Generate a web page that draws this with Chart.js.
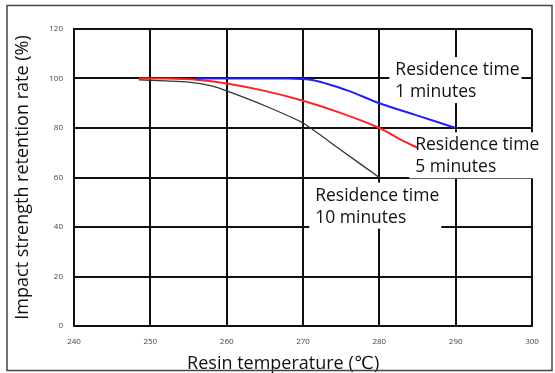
<!DOCTYPE html>
<html>
<head>
<meta charset="utf-8">
<script src="https://cdn.jsdelivr.net/npm/chart.js@4"></script>
<style>
  html, body { margin: 0; padding: 0; background: #fff; }
  #wrap { width: 555px; height: 373px; position: relative; }
</style>
</head>
<body>
<div id="wrap"><canvas id="myChart"></canvas></div>
<script>
// data
var xTicks = [240, 250, 260, 270, 280, 290, 300]
var yTicks = [0, 20, 40, 60, 80, 100, 120]

var temp1 = [256, 262, 268, 271, 273, 276, 280, 285, 290]
var min1 = [100, 100, 100, 99.5, 98, 95, 90, 85, 80]

var temp5 = [248.5, 252, 256, 260, 265, 270, 275, 280, 283, 285]
var min5 = [100, 100, 99.5, 98, 95, 91, 86, 80, 75, 72]

var temp10 = [248.5, 252, 255, 258, 260, 265, 270, 275, 280]
var min10 = [99.5, 99, 98.5, 97, 95, 89, 82, 71, 60]

var labelLines = [
    ['Residence time', '1 minutes'],
    ['Residence time', '5 minutes'],
    ['Residence time', '10 minutes']
]
var labelX = [282.1, 284.7, 271.6]
var labelY = [103.4, 73, 52.7]

var xTitle = 'Resin temperature (℃)'
var yTitle = 'Impact strength retention rate (%)'

function pts(xs, ys) {
    return xs.map(function (x, i) { return {x: x, y: ys[i]} })
}

var fontFam = '"Open Sans", "DejaVu Sans", sans-serif'
var noteFont = '17.5px ' + fontFam

// white boxes + text for the residence time notes, x title, outer frame
var notes = {
    id: 'notes',
    beforeDatasetsDraw: function (chart) {
        var ctx = chart.ctx
        var xs = chart.scales.x, ys = chart.scales.y
        ctx.save()
        ctx.font = noteFont
        for (var i = 0; i < labelLines.length; i++) {
            var px = xs.getPixelForValue(labelX[i])
            var py = ys.getPixelForValue(labelY[i])
            var w = ctx.measureText(labelLines[i][0]).width
            ctx.fillStyle = '#fff'
            ctx.fillRect(px - 6, py - 13, w + 8, 46)
        }
        ctx.restore()
    },
    afterDraw: function (chart) {
        var ctx = chart.ctx
        var xs = chart.scales.x, ys = chart.scales.y
        ctx.save()
        ctx.font = noteFont
        ctx.fillStyle = '#111'
        ctx.textBaseline = 'middle'
        for (var i = 0; i < labelLines.length; i++) {
            var px = xs.getPixelForValue(labelX[i])
            var py = ys.getPixelForValue(labelY[i])
            ctx.fillText(labelLines[i][0], px, py)
            ctx.fillText(labelLines[i][1], px, py + 22)
        }
        // x axis title sits a bit left of the plot centre in the original
        ctx.font = '18px ' + fontFam
        ctx.textAlign = 'center'
        ctx.fillText(xTitle, xs.getPixelForValue(267.4), 364)
        ctx.strokeStyle = '#444'
        ctx.lineWidth = 1.5
        ctx.strokeRect(7, 5.5, 545, 365)
        ctx.restore()
    }
}

var ctx = document.getElementById('myChart').getContext('2d')

var myChart = new Chart(ctx, {
    type: 'line',
    data: {
        datasets: [{
            label: '1 minutes',
            data: pts(temp1, min1),
            borderColor: '#1f1fff',
            borderWidth: 2,
            pointRadius: 0,
            tension: 0.3
        }, {
            label: '5 minutes',
            data: pts(temp5, min5),
            borderColor: '#ff2424',
            borderWidth: 2,
            pointRadius: 0,
            tension: 0.3
        }, {
            label: '10 minutes',
            data: pts(temp10, min10),
            borderColor: '#333',
            borderWidth: 1.3,
            pointRadius: 0,
            tension: 0.2
        }]
    },
    options: {
        responsive: true,
        maintainAspectRatio: false,
        animation: false,
        layout: {
            padding: {left: 12, top: 29, right: 23, bottom: 0}
        },
        plugins: {
            legend: {display: false},
            tooltip: {enabled: false}
        },
        scales: {
            x: {
                type: 'linear',
                min: 240,
                max: 300,
                afterBuildTicks: function (scale) {
                    scale.ticks = xTicks.map(function (v) { return {value: v} })
                },
                afterFit: function (scale) { scale.height = 47 },
                grid: {color: '#111', lineWidth: 2, drawTicks: false},
                border: {color: '#111', width: 2},
                ticks: {
                    padding: 11,
                    color: '#444',
                    font: {size: 8, family: fontFam}
                }
            },
            y: {
                min: 0,
                max: 120,
                afterBuildTicks: function (scale) {
                    scale.ticks = yTicks.map(function (v) { return {value: v} })
                },
                afterFit: function (scale) { scale.width = 62 },
                grid: {color: '#111', lineWidth: 2, drawTicks: false},
                border: {color: '#111', width: 2},
                ticks: {
                    padding: 11,
                    color: '#444',
                    font: {size: 8, family: fontFam}
                },
                title: {
                    display: true,
                    text: yTitle,
                    color: '#111',
                    padding: {top: 0, bottom: 0},
                    font: {size: 18, family: fontFam}
                }
            }
        }
    },
    plugins: [notes]
})
</script>
</body>
</html>
